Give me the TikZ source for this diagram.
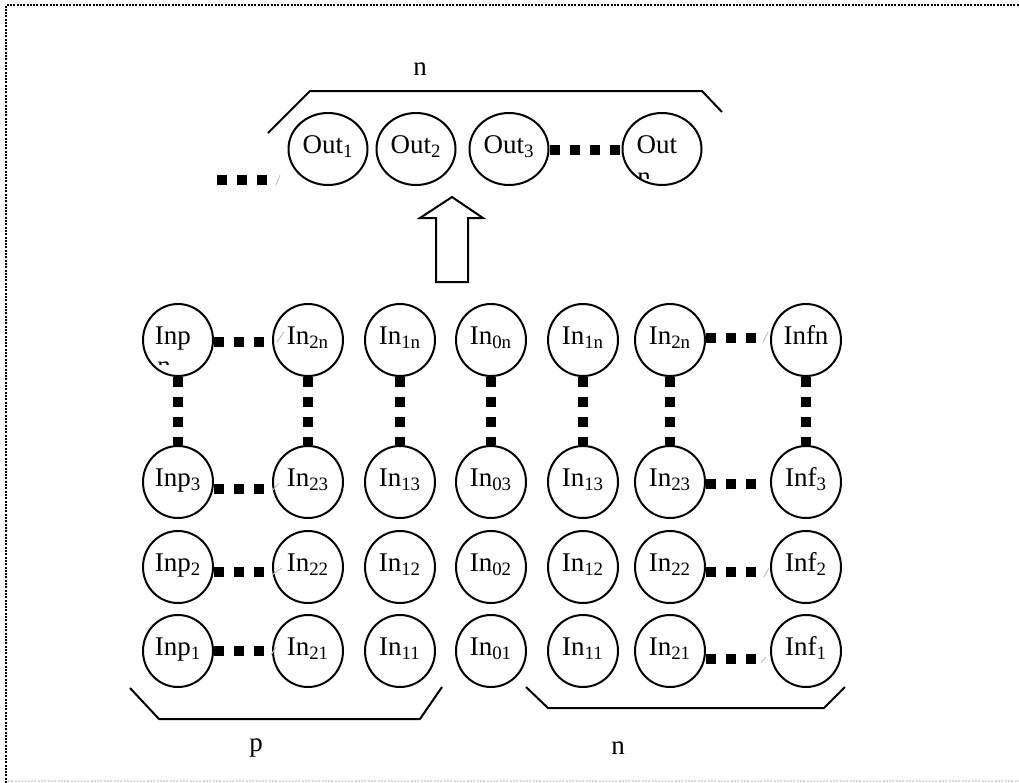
\documentclass[tikz,border=0pt]{standalone}
\usepackage{fontspec}
\setmainfont{Liberation Serif}
\usetikzlibrary{shapes.geometric}

\newcommand\lbl{\fontsize{13.5}{15}\selectfont}
\newcommand\idx[1]{\textsubscript{#1}}

\tikzset{
	unit/.style={ellipse, draw, line width=1pt, minimum width=35pt, minimum height=36pt,
		inner sep=0pt, text height=7pt, text depth=3pt, font=\lbl},
	outunit/.style={unit, minimum width=39.5pt},
	dots/.style={line width=5pt, dash pattern=on 5pt off 5pt},
	tick/.style={gray!50, line width=0.5pt},
	brace/.style={line width=1pt, line join=round},
	frame/.style={line width=1pt, dash pattern=on 1pt off 0.65pt},
}

\begin{document}
\begin{tikzpicture}[x=0.5pt, y=-0.5pt, line cap=butt]
		\useasboundingbox (0,0) rectangle (1019,783);
		% page frame
		\draw[frame] (6,783) -- (6,5) -- (1019,5);
		\draw[frame, gray!30, line width=0.6pt] (8,781) -- (1019,781);

		%% output layer
		\node[outunit] (Out1) at (328,149) {Out\idx{1}};
		\node[outunit] (Out2) at (416,149) {Out\idx{2}};
		\node[outunit] (Out3) at (509,149) {Out\idx{3}};
		\node[outunit] (Outn) at (662,149) {Out\hphantom{\idx{1}}};
		\begin{scope}
			\clip (630,165) rectangle (660,178);
			\node[anchor=base west, inner sep=0pt, font=\lbl] at (637,185) {n};
		\end{scope}
		\draw[dots] ([yshift=-0.5pt]Out3.east) -- ([yshift=-0.5pt]Outn.west);
		\coordinate (outfar) at (217,180);
		\coordinate (outnear) at (271,180);
		\draw[dots] (outfar) -- (outnear);
		\draw[tick] (276,185) -- (280,175);
		% bracket over the outputs
		\draw[brace] (268,133) -- (310,91) -- (702,91) -- (722,112);
		\node[font=\lbl] (topn) at (420,69) {n};

		% block arrow
		\draw[line width=1pt, line join=miter] (436,282) -- (436,218) -- (420,218) -- (452,197)
			-- (483,218) -- (468,218) -- (468,282) -- cycle;

		%% input layer, top row
		\node[unit] (pn)  at (178,340) {Inp\hphantom{\idx{3}}};
		\node[unit] (l2n) at (308,340) {In\idx{2n}};
		\node[unit] (l1n) at (400,340) {In\idx{1n}};
		\node[unit] (o0n) at (491,340) {In\idx{0n}};
		\node[unit] (r1n) at (583,340) {In\idx{1n}};
		\node[unit] (r2n) at (670,340) {In\idx{2n}};
		\node[unit] (fn)  at (806,340) {Infn};
		\begin{scope}
			\clip (150,355) rectangle (175,364.5);
			\node[anchor=base west, inner sep=0pt, font=\lbl] at (157,374) {n};
		\end{scope}
		% row 3
		\node[unit] (p3)  at (178,482) {Inp\idx{3}};
		\node[unit] (l23) at (308,482) {In\idx{23}};
		\node[unit] (l13) at (400,482) {In\idx{13}};
		\node[unit] (o03) at (491,482) {In\idx{03}};
		\node[unit] (r13) at (583,482) {In\idx{13}};
		\node[unit] (r23) at (670,482) {In\idx{23}};
		\node[unit] (f3)  at (806,482) {Inf\idx{3}};
		% row 2
		\node[unit] (p2)  at (178,567) {Inp\idx{2}};
		\node[unit] (l22) at (308,567) {In\idx{22}};
		\node[unit] (l12) at (400,567) {In\idx{12}};
		\node[unit] (o02) at (491,567) {In\idx{02}};
		\node[unit] (r12) at (583,567) {In\idx{12}};
		\node[unit] (r22) at (670,567) {In\idx{22}};
		\node[unit] (f2)  at (806,567) {Inf\idx{2}};
		% row 1
		\node[unit] (p1)  at (178,651) {Inp\idx{1}};
		\node[unit] (l21) at (308,651) {In\idx{21}};
		\node[unit] (l11) at (400,651) {In\idx{11}};
		\node[unit] (o01) at (491,651) {In\idx{01}};
		\node[unit] (r11) at (583,651) {In\idx{11}};
		\node[unit] (r21) at (670,651) {In\idx{21}};
		\node[unit] (f1)  at (806,651) {Inf\idx{1}};

		% columns
		\draw[dots] (pn.south) -- (p3.north);
		\draw[dots] (l2n.south) -- (l23.north);
		\draw[dots] (l1n.south) -- (l13.north);
		\draw[dots] (o0n.south) -- (o03.north);
		\draw[dots] (r1n.south) -- (r13.north);
		\draw[dots] (r2n.south) -- (r23.north);
		\draw[dots] (fn.south) -- (f3.north);

		% rows, left block
		\draw[dots] ([yshift=-1pt]pn.east) -- ([yshift=-1pt]l2n.west);
		\draw[dots] ([yshift=-3.5pt]p3.east) -- ([yshift=-3.5pt]l23.west);
		\draw[dots] ([yshift=-2.5pt]p2.east) -- ([yshift=-2.5pt]l22.west);
		\draw[dots] (p1.east) -- (l21.west);
		\draw[tick] ([shift={(2.5pt,-1pt)}]l2n.west) -- ++(3.5pt,5pt);
		\draw[tick] ([shift={(0.5pt,-4pt)}]l23.west) -- ++(3pt,3.5pt);
		\draw[tick] ([shift={(0pt,-4pt)}]l22.west) -- ++(5pt,3.5pt);
		\draw[tick] ([shift={(-0.5pt,-2pt)}]l21.west) -- ++(2.5pt,4pt);
		% rows, right block
		\draw[dots, shorten >=5pt] ([yshift=1pt]r2n.east) -- ([yshift=1pt]fn.west);
		\draw[dots, shorten >=5pt] ([yshift=-1pt]r23.east) -- ([yshift=-1pt]f3.west);
		\draw[dots, shorten >=5pt] ([yshift=-2.5pt]r22.east) -- ([yshift=-2.5pt]f2.west);
		\draw[dots, shorten >=5pt] ([yshift=-4pt]r21.east) -- ([yshift=-4pt]f1.west);
		\draw[tick] ([shift={(-3.5pt,-1pt)}]fn.west) -- ++(2.5pt,5pt);
		\draw[tick] ([shift={(-3pt,-5pt)}]f2.west) -- ++(2.5pt,4.5pt);
		\draw[tick] ([shift={(-4.5pt,-6pt)}]f1.west) -- ++(2.5pt,3pt);

		% brackets under the inputs
		\draw[brace] (130,688) -- (159,719) -- (420,719) -- (442,687);
		\node[font=\lbl] (botp) at (256,748) {p};
		\draw[brace] (526,687) -- (548,708) -- (824,708) -- (845,687);
		\node[font=\lbl] (botn) at (618,748) {n};
\end{tikzpicture}
\end{document}
